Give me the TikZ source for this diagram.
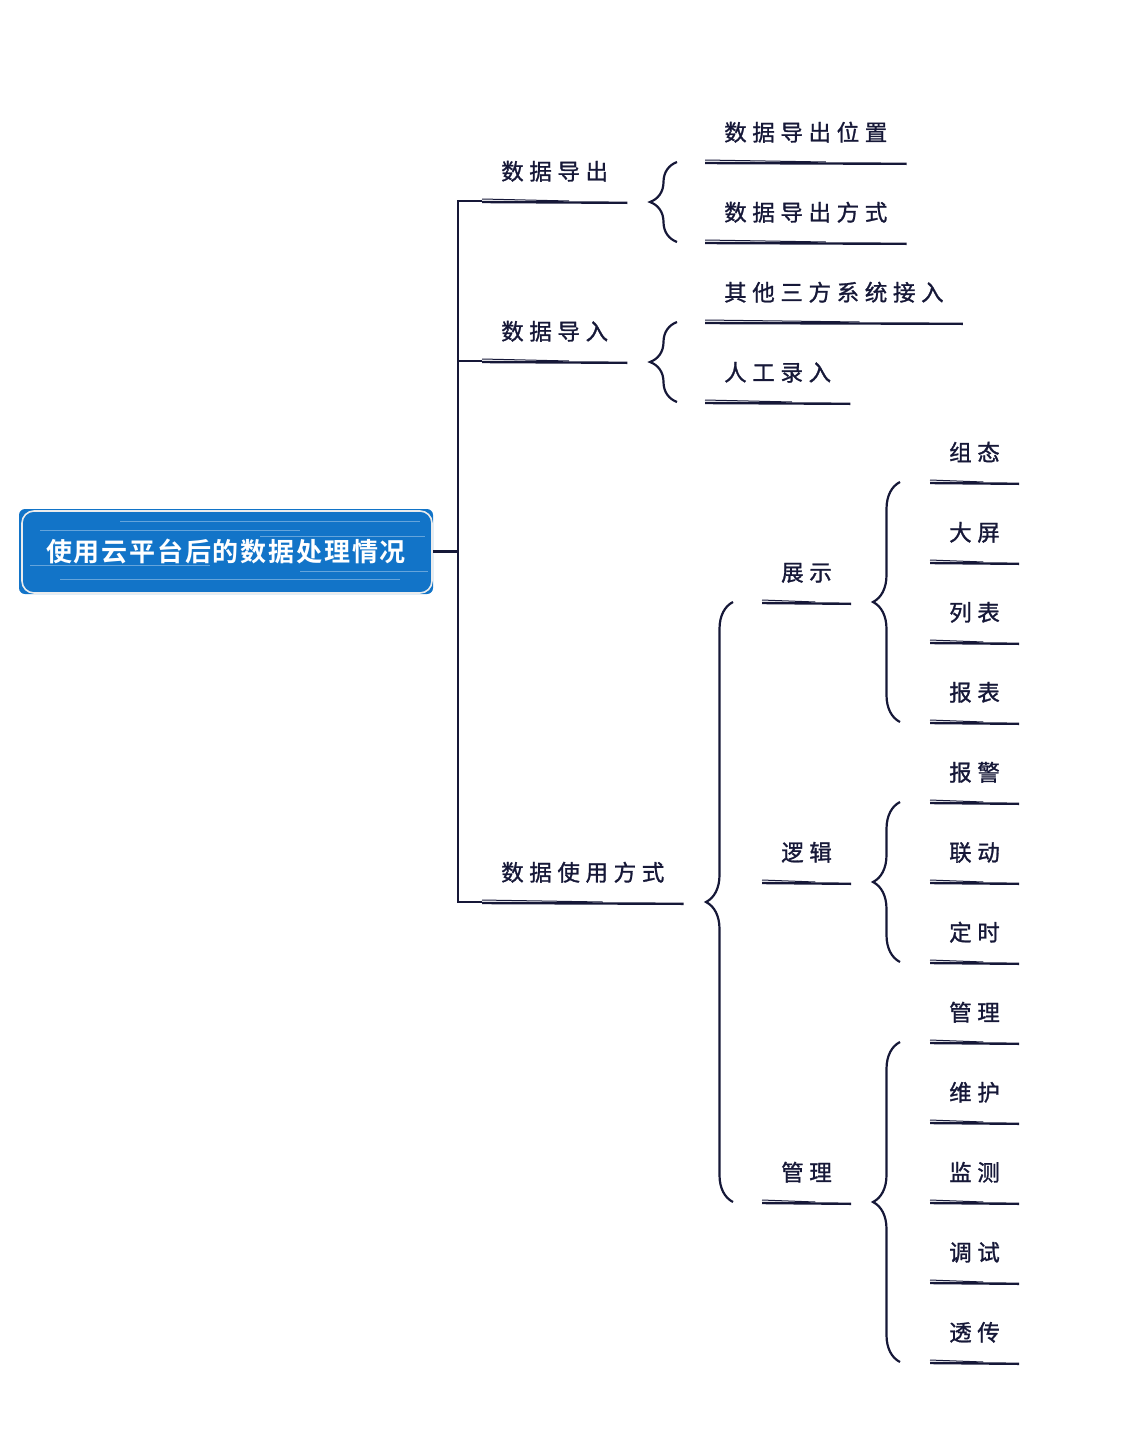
\documentclass[tikz,border=0pt]{standalone}
\usepackage{fontspec}
\setmainfont{Noto Sans CJK SC}
\newfontfamily\topicfont[LetterSpace=25,FakeBold=1.2]{Noto Sans CJK SC}
\newfontfamily\rootfont[LetterSpace=7]{Noto Sans CJK SC Bold}
\usetikzlibrary{decorations.pathreplacing,calc}

\definecolor{ink}{RGB}{22,24,56}
\definecolor{rootblue}{RGB}{18,116,200}

\tikzset{
	topic/.style={anchor=south west, inner xsep=19pt, inner ysep=0pt, text height=16pt, text depth=21pt,
		font=\topicfont\fontsize{22.5}{26}\selectfont, text=ink},
	conn/.style={ink, line width=2.2pt},
	brc/.style={ink, line width=2.2pt, decorate, decoration={brace, amplitude=27pt}},
	rootbox/.style={fill=rootblue, rounded corners=6pt, minimum width=414pt, minimum height=85pt,
		inner sep=0pt, text=white, font=\rootfont\fontsize{26}{30}\selectfont}
}

% Unterstrich (doppelt, skizzenhaft)
\newcommand\topicline[1]{%
	\draw[ink, line width=2.4pt] ([yshift=-1pt]#1.south west) -- ([yshift=-1.8pt]#1.south east);
	\draw[ink, line width=1pt] ([yshift=2pt]#1.south west) -- ([yshift=0pt]$(#1.south west)!.6!(#1.south east)$);}

\begin{document}
\begin{tikzpicture}[x=1pt, y=-1pt]
	\useasboundingbox (0,0) rectangle (1136,1432);
	
	% Wurzel
	\node[rootbox] (root) at (226,551.5) {使用云平台后的数据处理情况};
	\foreach \ya/\xa/\xb in {521/120/420, 530/40/300, 536/260/425, 565/30/210, 571/300/428, 579/60/400}
		\draw[white, opacity=.35, line width=1pt] (\xa,\ya) -- (\xb,\ya);
	\draw[gray!15, line width=1.6pt, rounded corners=12pt] (22,511) rectangle (432,593);
	
	% Hauptzweige
	\node[topic] (expo) at (482,201) {数据导出};
	\node[topic] (impo) at (482,361) {数据导入};
	\node[topic] (use) at (482,902) {数据使用方式};
	
	% Unterzweige
	\node[topic] (expopos) at (705,162) {数据导出位置};
	\node[topic] (expoway) at (705,242) {数据导出方式};
	\node[topic] (third) at (705,322) {其他三方系统接入};
	\node[topic] (manual) at (705,402) {人工录入};
	
	\node[topic] (show) at (762,602) {展示};
	\node[topic] (logic) at (762,882) {逻辑};
	\node[topic] (admin) at (762,1202) {管理};
	
	\foreach \n/\y/\t in {config/482/组态, screen/562/大屏, list/642/列表, report/722/报表,
		alarm/802/报警, link/882/联动, timer/962/定时,
		mgr/1042/管理, maint/1122/维护, monitor/1202/监测, debug/1282/调试, pass/1362/透传}
		\node[topic] (\n) at (930,\y) {\t};
	
	% Unterstriche
	\foreach \n in {expo, impo, use, expopos, expoway, third, manual, show, logic, admin,
		config, screen, list, report, alarm, link, timer, mgr, maint, monitor, debug, pass}
		\topicline{\n};
	
	% Verbindungen
	\coordinate (trunk) at ([xshift=25pt]root.east);
	\draw[conn] (root.east) -- (trunk);
	\draw[conn] (expo.south west) -- (expo.south west -| trunk) -- (use.south west -| trunk) -- (use.south west);
	\draw[conn] (impo.south west -| trunk) -- (impo.south west);
	
	% Klammern
	\draw[brc] ([xshift=-28pt]expoway.south west) -- ([xshift=-28pt]expopos.south west);
	\draw[brc] ([xshift=-28pt]manual.south west) -- ([xshift=-28pt]third.south west);
	\draw[brc] ([xshift=-29pt]admin.south west) -- ([xshift=-29pt]show.south west);
	\draw[brc] ([xshift=-30pt]report.south west) -- ([xshift=-30pt]config.south west);
	\draw[brc] ([xshift=-30pt]timer.south west) -- ([xshift=-30pt]alarm.south west);
	\draw[brc] ([xshift=-30pt]pass.south west) -- ([xshift=-30pt]mgr.south west);
	
\end{tikzpicture}
\end{document}
